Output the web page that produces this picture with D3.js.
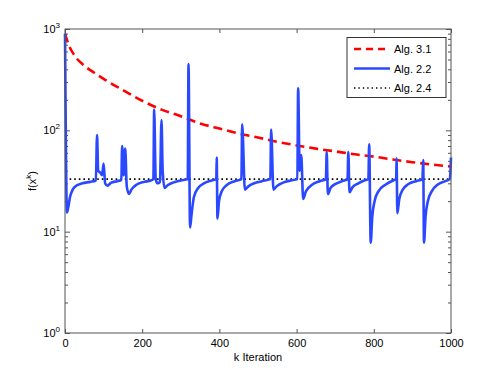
<!DOCTYPE html>
<html>
<head>
<meta charset="utf-8">
<script src="https://cdn.jsdelivr.net/npm/d3@7"></script>
<style>
  body { margin: 0; background: #fff; }
  text { font-family: "Liberation Sans", Arial, sans-serif; fill: #000; }
</style>
</head>
<body>
<svg width="498" height="375"></svg>
<script>
// Alg. 3.1 (red dashed) - [k, f]
const alg31 = [
  [0, 900], [10, 690], [25, 545], [50, 435], [75, 372], [100, 322],
  [150, 250], [200, 196], [250, 160], [300, 138], [350, 117], [400, 104],
  [450, 93], [500, 85], [550, 77], [600, 71], [650, 66], [700, 62],
  [750, 58], [800, 55], [850, 51.5], [900, 48.5], [950, 46], [1000, 44]
];

// Alg. 2.2 (blue solid) - [k, f]
const alg22 = [
  [0, 900], [1, 300], [3, 40], [5, 15.5], [8, 17], [13, 22], [20, 26],
  [30, 28.5], [45, 30], [65, 31], [80, 32], [83, 90], [86, 40], [92, 38],
  [96, 36], [100, 47], [104, 30], [110, 28.5], [120, 30.5], [135, 31.5],
  [146, 32.5], [148, 70], [152, 36], [156, 66], [160, 28], [166, 23.5],
  [172, 26], [185, 29], [205, 31], [222, 32], [229, 33], [231, 160],
  [235, 33], [240, 30], [246, 31], [250, 126], [253, 40], [258, 27],
  [265, 28.5], [280, 30.5], [300, 32], [318, 33], [320, 450], [324, 11],
  [328, 15], [334, 22], [345, 27], [360, 30], [380, 32], [392, 33],
  [393, 54], [395, 13.5], [399, 20], [406, 25], [420, 29], [440, 31.5],
  [457, 33], [459, 115], [466, 26], [475, 28], [490, 30], [510, 31.5],
  [532, 33], [534, 102], [540, 26], [548, 28], [565, 30.5], [585, 32],
  [602, 33], [604, 260], [608, 40], [612, 57], [617, 21], [624, 25],
  [640, 29], [660, 31.5], [676, 33], [678, 61], [681, 23.5], [688, 27],
  [700, 29.5], [718, 31.5], [732, 33], [734, 61], [737, 24.5], [745, 27.5],
  [760, 30], [775, 32], [786, 33], [788, 73], [792, 7.8], [796, 14],
  [802, 20], [812, 25], [830, 29], [850, 32], [858, 33], [859, 53],
  [861, 15.2], [866, 21], [875, 26], [890, 29.5], [910, 31.5], [926, 33],
  [928, 51], [930, 7.8], [934, 14], [940, 20], [950, 25], [965, 29],
  [985, 31.5], [997, 33], [1000, 54]
];

// Alg. 2.4 (black dotted) - constant level
const alg24 = [[0, 33], [1000, 33]];

const xTicks = [0, 200, 400, 600, 800, 1000];
const yMajor = [1, 10, 100, 1000];
const yExp = ['0', '1', '2', '3'];
const legendLabels = ['Alg. 3.1', 'Alg. 2.2', 'Alg. 2.4'];

const svg = d3.select('svg');
const MARGIN = { TOP: 29, RIGHT: 47, BOTTOM: 42, LEFT: 65 };
const WIDTH = +svg.attr('width') - MARGIN.LEFT - MARGIN.RIGHT;
const HEIGHT = +svg.attr('height') - MARGIN.TOP - MARGIN.BOTTOM;

const g = svg.append('g')
  .attr('transform', `translate(${MARGIN.LEFT}, ${MARGIN.TOP})`);

const x = d3.scaleLinear().domain([0, 1000]).range([0, WIDTH]);
const y = d3.scaleLog().domain([1, 1000]).range([HEIGHT, 0]);

// minor log ticks 2..9 in each decade
const yMinor = [];
[1, 10, 100].forEach(d => {
  for (let m = 2; m <= 9; m++) yMinor.push(d * m);
});

const AX = '#555';

// ticks (all pointing inward)
function ticks(sel) {
  sel.selectAll('.domain').remove();
  sel.selectAll('line').attr('stroke', AX);
}
g.append('g').attr('transform', `translate(0,${HEIGHT})`)
  .call(d3.axisBottom(x).tickValues(xTicks).tickSize(-4).tickPadding(6).tickFormat(d3.format('d')))
  .call(ticks)
  .selectAll('text').style('font-size', '11px').attr('font-family', null);
g.append('g')
  .call(d3.axisTop(x).tickValues(xTicks).tickSize(-4).tickFormat(''))
  .call(ticks);
g.append('g')
  .call(d3.axisLeft(y).tickValues(yMajor).tickSize(-5).tickFormat(''))
  .call(ticks);
g.append('g')
  .call(d3.axisLeft(y).tickValues(yMinor).tickSize(-3).tickFormat(''))
  .call(ticks);
g.append('g').attr('transform', `translate(${WIDTH},0)`)
  .call(d3.axisRight(y).tickValues(yMajor).tickSize(-5).tickFormat(''))
  .call(ticks);
g.append('g').attr('transform', `translate(${WIDTH},0)`)
  .call(d3.axisRight(y).tickValues(yMinor).tickSize(-3).tickFormat(''))
  .call(ticks);

// y tick labels 10^n
const yl = g.selectAll('.ylab').data(yMajor).enter().append('text')
  .attr('class', 'ylab')
  .attr('x', -5)
  .attr('y', d => y(d) + 4)
  .attr('text-anchor', 'end')
  .style('font-size', '11px');
yl.append('tspan').text('10');
yl.append('tspan').attr('dy', -5).style('font-size', '8px').text((d, i) => yExp[i]);

// lines
const line = d3.line()
  .x(d => x(d[0]))
  .y(d => y(d[1]));

g.append('path')
  .datum(alg24)
  .attr('fill', 'none')
  .attr('stroke', '#000')
  .attr('stroke-width', 1.6)
  .attr('stroke-dasharray', '1.6,3')
  .attr('d', line);

g.append('path')
  .datum(alg31)
  .attr('fill', 'none')
  .attr('stroke', '#ff0000')
  .attr('stroke-width', 2.6)
  .attr('stroke-dasharray', '9,5')
  .attr('d', line.curve(d3.curveMonotoneX));

g.append('path')
  .datum(alg22)
  .attr('fill', 'none')
  .attr('stroke', '#2a48ff')
  .attr('stroke-width', 2.6)
  .attr('stroke-linejoin', 'round')
  .attr('d', line.curve(d3.curveMonotoneX));

// frame
g.append('rect')
  .attr('width', WIDTH).attr('height', HEIGHT)
  .attr('fill', 'none').attr('stroke', AX).attr('stroke-width', 1);

// axis titles
svg.append('text')
  .attr('x', MARGIN.LEFT + WIDTH / 2)
  .attr('y', 361)
  .attr('text-anchor', 'middle')
  .style('font-size', '11px')
  .text('k Iteration');

const ytitle = svg.append('text')
  .attr('transform', `translate(36, ${MARGIN.TOP + HEIGHT / 2}) rotate(-90)`)
  .attr('text-anchor', 'middle')
  .style('font-size', '11px');
ytitle.append('tspan').text('f(x');
ytitle.append('tspan').attr('dy', -5).style('font-size', '8px').text('k');
ytitle.append('tspan').attr('dy', 5).text(')');

// legend
const legend = svg.append('g').attr('transform', 'translate(347, 37.5)');
legend.append('rect')
  .attr('width', 99).attr('height', 60)
  .attr('fill', '#fff').attr('stroke', '#333').attr('stroke-width', 1);
const styles = [
  { stroke: '#ff0000', w: 2.6, dash: '7,5' },
  { stroke: '#2a48ff', w: 2.6, dash: null },
  { stroke: '#000', w: 1.4, dash: '1.4,3' }
];
legendLabels.forEach((lab, i) => {
  const yy = 11.5 + i * 19.5;
  legend.append('line')
    .attr('x1', 7).attr('x2', 43).attr('y1', yy).attr('y2', yy)
    .attr('stroke', styles[i].stroke)
    .attr('stroke-width', styles[i].w)
    .attr('stroke-dasharray', styles[i].dash);
  legend.append('text')
    .attr('x', 47).attr('y', yy + 4)
    .style('font-size', '11px')
    .text(lab);
});
</script>
</body>
</html>
